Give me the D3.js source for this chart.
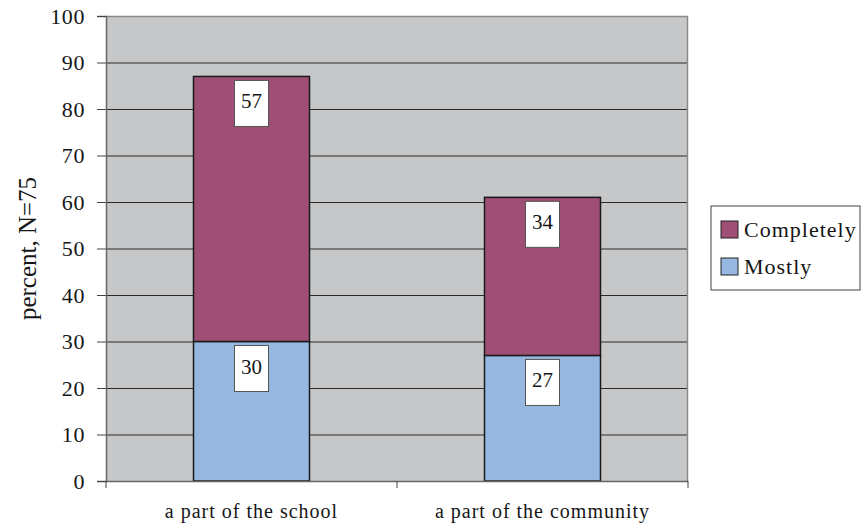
<!DOCTYPE html>
<html>
<head>
<meta charset="utf-8">
<script src="https://cdn.jsdelivr.net/npm/d3@7"></script>
<style>
  html, body { margin: 0; padding: 0; background: #fff; }
  svg { display: block; }
  text { font-family: "Liberation Serif", "Times New Roman", serif; fill: #161616; }
</style>
</head>
<body>
<svg id="chart" width="862" height="525"></svg>
<script>
// Stacked percentages per category
const categories = ["a part of the school", "a part of the community"];
const seriesNames = ["Mostly", "Completely"];
const mostly = [30, 27];
const completely = [57, 34];
const yTicks = [0, 10, 20, 30, 40, 50, 60, 70, 80, 90, 100];
const colors = { Mostly: "#95B7E0", Completely: "#9F4F75" };

const svg = d3.select("#chart");
const plot = { left: 106, right: 688, top: 16, bottom: 481 };

const x = d3.scaleBand().domain(categories).range([plot.left, plot.right]).paddingInner(0).paddingOuter(0);
const y = d3.scaleLinear().domain([0, 100]).range([plot.bottom, plot.top]);

// Plot background
svg.append("rect")
  .attr("x", plot.left).attr("y", plot.top)
  .attr("width", plot.right - plot.left).attr("height", plot.bottom - plot.top)
  .attr("fill", "#C6C7C9");

// Gridlines
svg.append("g").selectAll("line").data(yTicks.filter(d => d > 0 && d < 100)).join("line")
  .attr("x1", plot.left).attr("x2", plot.right)
  .attr("y1", d => y(d) + 0.5).attr("y2", d => y(d) + 0.5)
  .attr("stroke", "#2a2a2a").attr("stroke-width", 1);

// Plot border (top and right)
svg.append("path")
  .attr("d", `M${plot.left},${plot.top + 0.5}H${plot.right - 0.5}V${plot.bottom}`)
  .attr("fill", "none").attr("stroke", "#8a8a8a").attr("stroke-width", 1.5);

// Stacked data
const rows = categories.map((c, i) => ({ category: c, Mostly: mostly[i], Completely: completely[i] }));
const stacked = d3.stack().keys(seriesNames)(rows);

const barW = 116;
const g = svg.append("g");
stacked.forEach(layer => {
  g.selectAll(null).data(layer).join("rect")
    .attr("x", d => x(d.data.category) + x.bandwidth() / 2 - barW / 2)
    .attr("y", d => y(d[1]))
    .attr("width", barW)
    .attr("height", d => y(d[0]) - y(d[1]))
    .attr("fill", colors[layer.key])
    .attr("stroke", "#1a1a1a").attr("stroke-width", 1.5);
});

// Value labels in white boxes near the top of each segment
stacked.forEach(layer => {
  const lg = svg.append("g").selectAll("g").data(layer).join("g")
    .attr("transform", d => `translate(${x(d.data.category) + x.bandwidth() / 2},${y(d[1]) + 4})`);
  lg.append("rect")
    .attr("x", -17).attr("y", 0).attr("width", 34).attr("height", 46)
    .attr("fill", "#fff").attr("stroke", "#555").attr("stroke-width", 1);
  lg.append("text")
    .attr("x", 0).attr("y", 28)
    .attr("text-anchor", "middle")
    .style("font-size", "21px")
    .text(d => d[1] - d[0]);
});

// Y axis
const yAxis = d3.axisLeft(y).tickValues(yTicks).tickSize(9).tickPadding(12);
const ya = svg.append("g").attr("transform", `translate(${plot.left},0)`).call(yAxis);
ya.attr("font-family", null).attr("font-size", null);
ya.select(".domain").attr("stroke", "#666").attr("stroke-width", 1.5);
ya.selectAll(".tick line").attr("stroke", "#444");
ya.selectAll(".tick text")
  .attr("fill", "#161616")
  .attr("dy", "0.34em")
  .style("font-size", "22px")
  .style("letter-spacing", "0.6px");

// X axis with ticks at category boundaries
svg.append("line")
  .attr("x1", plot.left).attr("x2", plot.right)
  .attr("y1", plot.bottom + 0.5).attr("y2", plot.bottom + 0.5)
  .attr("stroke", "#666").attr("stroke-width", 1.5);
const bounds = [plot.left, ...categories.map(c => x(c) + x.bandwidth())];
svg.append("g").selectAll("line").data(bounds).join("line")
  .attr("x1", d => d).attr("x2", d => d)
  .attr("y1", plot.bottom).attr("y2", plot.bottom + 7)
  .attr("stroke", "#444");
svg.append("g").selectAll("text").data(categories).join("text")
  .attr("x", d => x(d) + x.bandwidth() / 2)
  .attr("y", 518)
  .attr("text-anchor", "middle")
  .style("font-size", "20px")
  .style("letter-spacing", "1px")
  .text(d => d);

// Y axis title
svg.append("text")
  .attr("transform", `translate(36,${(plot.top + plot.bottom) / 2}) rotate(-90)`)
  .attr("text-anchor", "middle")
  .style("font-size", "25px")
  .text("percent, N=75");

// Legend
const legend = svg.append("g");
legend.append("rect")
  .attr("x", 711).attr("y", 206).attr("width", 149).attr("height", 84)
  .attr("fill", "#fff").attr("stroke", "#444").attr("stroke-width", 1);
const legendItems = ["Completely", "Mostly"];
const li = legend.selectAll("g").data(legendItems).join("g")
  .attr("transform", (d, i) => `translate(721,${221 + i * 37})`);
li.append("rect")
  .attr("width", 17).attr("height", 17)
  .attr("fill", d => colors[d]).attr("stroke", "#222").attr("stroke-width", 1);
li.append("text")
  .attr("x", 23).attr("y", 16)
  .style("font-size", "22px")
  .style("letter-spacing", "1px")
  .text(d => d);
</script>
</body>
</html>
